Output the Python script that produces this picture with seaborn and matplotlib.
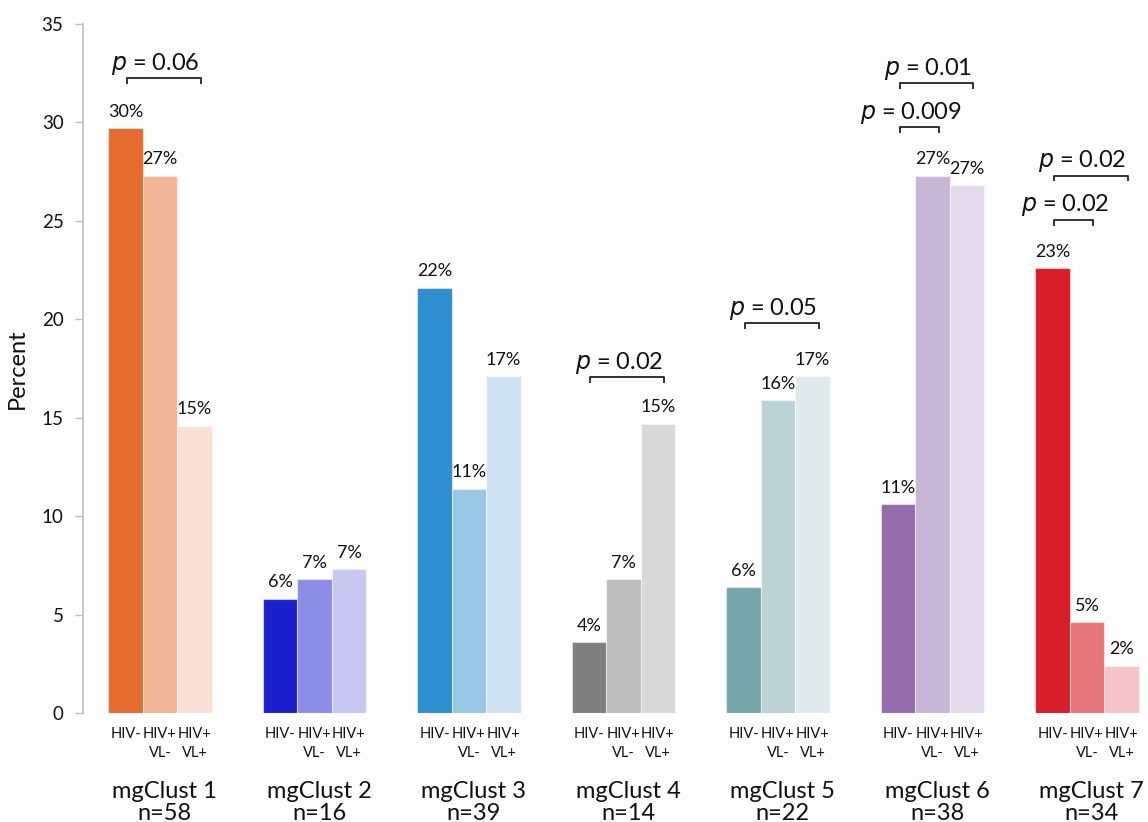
import numpy as np
import pandas as pd
import matplotlib
matplotlib.use("Agg")
import matplotlib.pyplot as plt
import matplotlib.transforms as mtransforms
import seaborn as sns

# Percent of each group falling in each microbiome cluster
clusters = ["mgClust 1", "mgClust 2", "mgClust 3", "mgClust 4",
            "mgClust 5", "mgClust 6", "mgClust 7"]
cluster_n = [58, 16, 39, 14, 22, 38, 34]
groups = ["HIV-", "HIV+\nVL-", "HIV+\nVL+"]

hiv_neg = [29.7, 5.8, 21.6, 3.6, 6.4, 10.6, 22.6]
hiv_pos_vl_neg = [27.3, 6.8, 11.4, 6.8, 15.9, 27.3, 4.6]
hiv_pos_vl_pos = [14.6, 7.3, 17.1, 14.7, 17.1, 26.8, 2.4]

# Pairwise comparisons: (cluster index, first group, second group, bracket height, label)
comparisons = [
    (0, 0, 2, 32.25, "0.06"),
    (3, 0, 2, 17.05, "0.02"),
    (4, 0, 2, 19.8, "0.05"),
    (5, 0, 2, 32.0, "0.01"),
    (5, 0, 1, 29.75, "0.009"),
    (6, 0, 2, 27.3, "0.02"),
    (6, 0, 1, 25.05, "0.02"),
]

palettes = [
    ["#E46C2E", "#F2B597", "#FAE0D5"],
    ["#1B20CF", "#8C8DE6", "#C7C7F2"],
    ["#2E8ECF", "#99C7E6", "#CDE3F3"],
    ["#7F7F7F", "#BEBEBE", "#D8D8D8"],
    ["#76A6AC", "#BBD3D7", "#DEEAEC"],
    ["#956DAD", "#C8B6D6", "#E3DBEC"],
    ["#D81E28", "#E87579", "#F4C4C8"],
]

df = pd.DataFrame({
    "cluster": np.repeat(clusters, 3),
    "group": groups * len(clusters),
    "percent": np.ravel(np.column_stack([hiv_neg, hiv_pos_vl_neg, hiv_pos_vl_pos])),
})

sns.set_theme(style="white")
plt.rcParams["font.family"] = ["Lato", "DejaVu Sans"]

fig = plt.figure(figsize=(11.48, 8.22), dpi=100)
fig.patch.set_facecolor("#FDFDFD")
ax = fig.add_axes([0.0723, 0.1326, 0.9277, 0.8382])
ax.set_facecolor("#FDFDFD")

group_width = 0.67
sns.barplot(data=df, x="cluster", y="percent", hue="group",
            order=clusters, hue_order=groups, width=group_width, gap=0,
            dodge=True, legend=False, errorbar=None, ax=ax)

values = [hiv_neg, hiv_pos_vl_neg, hiv_pos_vl_pos]
centers = {}
for g, container in enumerate(ax.containers):
    for c, patch in enumerate(container.patches):
        patch.set_facecolor(palettes[c][g])
        patch.set_edgecolor((1, 1, 1, 0.5))
        patch.set_linewidth(0.8)
        cx = patch.get_x() + patch.get_width() / 2
        centers[(c, g)] = cx
        v = values[g][c]
        ax.annotate(f"{v:.0f}%", (cx, v), xytext=(0, 6), textcoords="offset points",
                    ha="center", va="bottom", fontsize=13, color="#111111")

# Significance brackets
tick_h = 0.3
for c, g1, g2, y, label in comparisons:
    x1 = centers[(c, g1)] + 0.01
    x2 = centers[(c, g2)] + 0.04
    ax.plot([x1, x1, x2, x2], [y - tick_h, y, y, y - tick_h],
            color="#222222", lw=1.3, solid_capstyle="butt", clip_on=False)
    ax.annotate(f"$\\it{{p}}$ = {label}", ((x1 + x2) / 2, y), xytext=(-6, 1),
                textcoords="offset points", ha="center", va="bottom",
                fontsize=17, color="#111111")

# Group labels under each bar
tick_pos = [centers[(c, g)] for c in range(len(clusters)) for g in range(3)]
tick_lab = [groups[g] for c in range(len(clusters)) for g in range(3)]
ax.set_xticks(tick_pos)
ax.set_xticklabels(tick_lab, fontsize=10.5, color="#111111", linespacing=1.5)
ax.tick_params(axis="x", length=0, pad=10)

# Cluster names with sample sizes
trans = mtransforms.blended_transform_factory(ax.transData, ax.transAxes)
for c, (name, n) in enumerate(zip(clusters, cluster_n)):
    ax.text(c + 0.03, -0.098, f"{name}\nn={n}", transform=trans, ha="center", va="top",
            fontsize=17, color="#111111", linespacing=1.06, clip_on=False)

ax.set_xlim(-0.498, 6.395)
ax.set_ylim(0, 35)
ax.set_yticks(np.arange(0, 36, 5))
ax.tick_params(axis="y", which="both", left=True, length=6, width=1, color="#BFBFBF",
               labelsize=13.5, labelcolor="#111111", pad=8)
ax.set_ylabel("Percent", fontsize=17, color="#111111", labelpad=10)
ax.set_xlabel("")

for side in ["top", "right", "bottom"]:
    ax.spines[side].set_visible(False)
ax.spines["left"].set_color("#BFBFBF")
ax.spines["left"].set_linewidth(1.2)

fig.savefig("out.png", dpi=100, facecolor=fig.get_facecolor())
